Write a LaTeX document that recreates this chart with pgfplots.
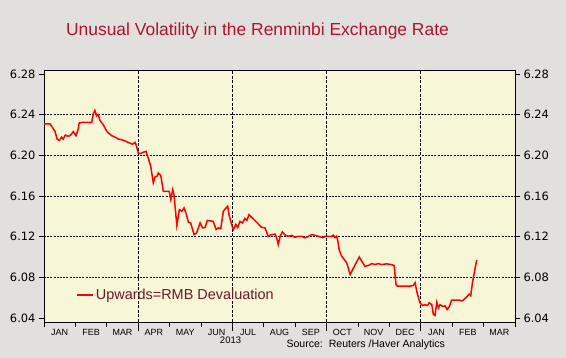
\documentclass[border=0pt]{standalone}
\usepackage{pgfplots}
\pgfplotsset{compat=1.18}
\usepackage{pgfplotstable}
\usepackage{fontspec}
\setmainfont{Liberation Sans}
\newfontfamily\dejavu{DejaVu Sans}
\definecolor{bgout}{RGB}{226,224,223}
\definecolor{bgplot}{RGB}{247,246,214}
\definecolor{titlered}{RGB}{178,18,42}
\definecolor{legtext}{RGB}{112,24,40}

\pgfplotstableread{
m v
0.00 6.2310
0.19 6.2310
0.28 6.2270
0.35 6.2236
0.42 6.2160
0.49 6.2147
0.56 6.2180
0.61 6.2160
0.68 6.2200
0.77 6.2187
0.85 6.2200
0.93 6.2233
1.02 6.2193
1.09 6.2260
1.12 6.2318
1.20 6.2324
1.52 6.2324
1.57 6.2410
1.62 6.2442
1.68 6.2390
1.73 6.2400
1.78 6.2344
1.89 6.2300
1.97 6.2253
2.05 6.2220
2.16 6.2193
2.26 6.2180
2.37 6.2160
2.47 6.2154
2.61 6.2138
2.72 6.2122
2.82 6.2110
2.90 6.2128
2.95 6.2088
3.00 6.2023
3.06 6.2016
3.16 6.2030
3.25 6.2040
3.32 6.1974
3.40 6.1890
3.48 6.1730
3.54 6.1790
3.59 6.1790
3.64 6.1827
3.72 6.1800
3.80 6.1646
3.99 6.1646
4.04 6.1564
4.10 6.1663
4.14 6.1614
4.23 6.1310
4.31 6.1466
4.39 6.1450
4.46 6.1483
4.52 6.1434
4.60 6.1340
4.67 6.1335
4.78 6.1220
4.86 6.1237
4.97 6.1335
5.05 6.1286
5.13 6.1290
5.20 6.1360
5.39 6.1350
5.48 6.1270
5.55 6.1286
5.63 6.1280
5.71 6.1450
5.82 6.1490
5.85 6.1500
5.89 6.1417
5.96 6.1335
6.03 6.1270
6.11 6.1320
6.17 6.1290
6.24 6.1350
6.32 6.1335
6.40 6.1380
6.46 6.1360
6.53 6.1417
6.61 6.1390
6.72 6.1358
6.82 6.1326
6.93 6.1292
7.04 6.1286
7.14 6.1203
7.25 6.1220
7.36 6.1225
7.41 6.1188
7.46 6.1122
7.52 6.1203
7.59 6.1247
7.68 6.1215
7.78 6.1203
7.89 6.1213
7.99 6.1194
8.10 6.1203
8.21 6.1203
8.31 6.1188
8.42 6.1203
8.53 6.1220
8.63 6.1213
8.74 6.1203
8.84 6.1194
8.89 6.1190
8.95 6.1203
9.16 6.1203
9.21 6.1215
9.27 6.1190
9.32 6.1205
9.36 6.1155
9.40 6.1070
9.48 6.1007
9.55 6.0980
9.64 6.0942
9.75 6.0827
9.83 6.0876
9.94 6.0942
10.04 6.1000
10.12 6.0958
10.22 6.0909
10.33 6.0916
10.44 6.0935
10.54 6.0925
10.65 6.0935
10.75 6.0925
10.91 6.0932
11.07 6.0925
11.15 6.0915
11.21 6.0729
11.25 6.0713
11.66 6.0713
11.76 6.0720
11.82 6.0746
11.87 6.0663
11.97 6.0549
12.06 6.0523
12.13 6.0530
12.21 6.0523
12.27 6.0549
12.35 6.0530
12.40 6.0434
12.45 6.0424
12.51 6.0555
12.56 6.0500
12.61 6.0530
12.70 6.0513
12.77 6.0520
12.84 6.0483
12.91 6.0513
12.98 6.0575
13.09 6.0575
13.23 6.0575
13.30 6.0568
13.35 6.0575
13.46 6.0607
13.54 6.0634
13.59 6.0620
13.65 6.0758
13.73 6.0889
13.78 6.0970
}\rmb

\begin{document}
\begin{tikzpicture}
\fill[bgout] (0,0) rectangle (566bp,358bp);
\node[text=titlered, font=\fontsize{17.5}{20}\selectfont] at (257.5bp,327bp) {Unusual Volatility in the Renminbi Exchange Rate};
\begin{axis}[
  at={(44bp,36bp)}, anchor=south west,
  width=471bp, height=252bp, scale only axis,
  xmin=0, xmax=15, ymin=6.036, ymax=6.284,
  axis background/.style={fill=bgplot},
  axis line style={black, line width=0.8bp},
  tick align=outside,
  xtick pos=left, ytick pos=left,
  major tick length=5bp,
  every tick/.style={black, line width=0.8bp},
  xtick={0,1,...,15},
  xticklabels={JAN,FEB,MAR,APR,MAY,JUN,JUL,AUG,SEP,OCT,NOV,DEC,JAN,FEB,MAR,},
  x tick label style={xshift=15.7bp, yshift=1bp, font=\fontsize{9}{10}\selectfont},
  extra x ticks={3,6,9,12},
  extra x tick labels={},
  extra x tick style={grid=major, major tick length=9bp, major grid style={black, line width=0.9bp, dash pattern=on 3bp off 1.5bp}},
  ytick={6.04,6.08,6.12,6.16,6.20,6.24,6.28},
  /pgf/number format/assume math mode=true,
  y tick label style={font=\dejavu\fontsize{11.5}{12}\selectfont, /pgf/number format/.cd, fixed, fixed zerofill, precision=2},
  extra y ticks={6.08,6.12,6.16,6.20,6.24},
  extra y tick labels={},
  extra y tick style={grid=major, major tick length=0pt, major grid style={black, line width=0.7bp, dash pattern=on 2bp off 1.2bp}},
  legend style={at={(0.062,0.107)}, anchor=west, draw=none, fill=none, font=\fontsize{14.5}{16}\selectfont, text=legtext},
  legend image code/.code={\draw[red, line width=1.5bp] (0,0) -- (16bp,0);},
  clip=false,
]
\addplot[red, line width=1.5bp] table[x=m, y=v] {\rmb};
\addlegendentry{Upwards=RMB Devaluation}
\node[font=\fontsize{9.5}{10}\selectfont] at (rel axis cs:0.396,-0.0714) {2013};
\node[anchor=west, font=\fontsize{10.6}{12}\selectfont] at (rel axis cs:0.5074,-0.0913) {Source:\ \ Reuters /Haver Analytics};
\end{axis}
\begin{axis}[
  at={(44bp,36bp)}, anchor=south west,
  width=471bp, height=252bp, scale only axis,
  xmin=0, xmax=15, ymin=6.036, ymax=6.284,
  hide x axis,
  axis y line*=right,
  axis line style={black, line width=0.8bp},
  tick align=outside,
  major tick length=5bp,
  every tick/.style={black, line width=0.8bp},
  ytick={6.04,6.08,6.12,6.16,6.20,6.24,6.28},
  /pgf/number format/assume math mode=true,
  y tick label style={font=\dejavu\fontsize{11.5}{12}\selectfont, /pgf/number format/.cd, fixed, fixed zerofill, precision=2},
]
\addplot[draw=none] coordinates {(0,6.1)};
\end{axis}
\pgfresetboundingbox
\path[use as bounding box] (0,0) rectangle (566bp,358bp);
\end{tikzpicture}
\end{document}
